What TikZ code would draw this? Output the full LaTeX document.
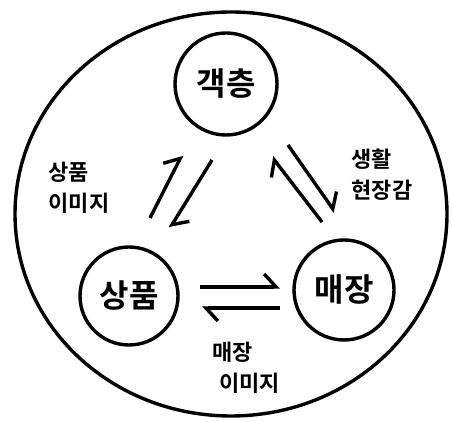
\documentclass[tikz,border=0pt]{standalone}
\usepackage{fontspec}
\newfontfamily\kofont{Noto Sans CJK KR Bold}
\usetikzlibrary{arrows.meta}

\begin{document}
\begin{tikzpicture}[x=1pt,y=1pt]
	% Styles
	\tikzstyle{cercle}=[circle,draw,line width=3.4pt,inner sep=0pt,font=\kofont\fontsize{32}{32}\selectfont]
	\tikzstyle{legende}=[align=left,inner sep=0pt,font=\kofont\fontsize{22}{31}\selectfont]
	\tikzstyle{fleche}=[line width=3.4pt,-{Straight Barb[harpoon,length=12pt,width=26pt]}]
	\useasboundingbox (0,0) rectangle (452,422);
	% Cadre
	\draw[line width=3.4pt] (231,208) ellipse [x radius=216,y radius=202];
	% Noeuds
	\node[cercle,minimum size=102pt] (client) at (226,338) {객층};
	\node[cercle,minimum size=98pt] (produit) at (129,126) {상품};
	\node[cercle,minimum size=100pt] (magasin) at (344,132) {매장};
	% Legendes
	\node[legende] (imgproduit) at (79,234) {상품\\이미지};
	\node[legende] (vecu) at (382,247) {생활\\현장감};
	\node[legende] (imgmagasin) at (246,54) {매장\\\hspace{7pt}이미지};
	% Extremites des fleches
	\coordinate (ga) at (150,204); \coordinate (gb) at (182,267);
	\coordinate (gc) at (212,262); \coordinate (gd) at (170,194);
	\coordinate (da) at (322,200); \coordinate (db) at (272,265);
	\coordinate (dc) at (288,277); \coordinate (dd) at (335,210);
	\coordinate (ba) at (200,135); \coordinate (bb) at (280,135);
	\coordinate (bc) at (280,114); \coordinate (bd) at (202,114);
	% Arcs
	\draw[fleche] (ga)--(gb);
	\draw[fleche] (gc)--(gd);
	\draw[fleche] (da)--(db);
	\draw[fleche] (dc)--(dd);
	\draw[fleche] (ba)--(bb);
	\draw[fleche] (bc)--(bd);
\end{tikzpicture}
\end{document}
